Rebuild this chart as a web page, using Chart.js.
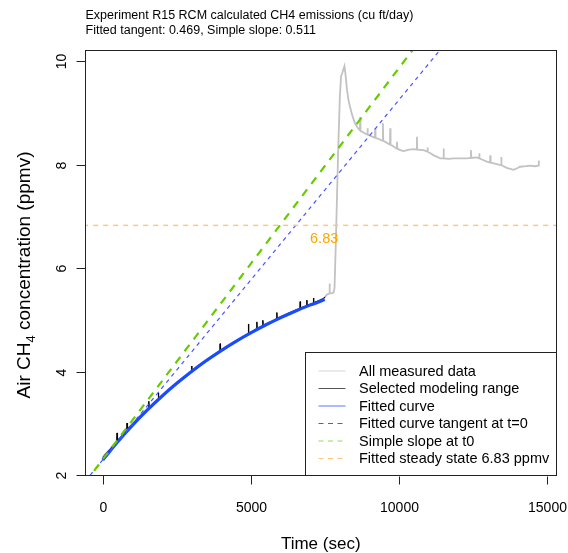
<!DOCTYPE html>
<html>
<head>
<meta charset="utf-8">
<script src="https://cdn.jsdelivr.net/npm/chart.js@4.4.1/dist/chart.umd.min.js"></script>
<style>
body { margin: 0; background: #fff; }
#wrap { width: 568px; height: 553px; }
</style>
</head>
<body>
<div id="wrap"><canvas id="myChart" width="568" height="553"></canvas></div>
<script>
// selected modeling range (sec, ppmv)
var selTime = [0, 120, 250, 380, 470, 484, 495, 600, 700, 810, 821, 832, 950, 1100, 1250, 1400,
  1545, 1555, 1565, 1700, 1870, 1880, 1890, 2050, 2250, 2450, 2650, 2850, 2998, 3008, 3018,
  3200, 3400, 3600, 3800, 3956, 3966, 3976, 4150, 4350, 4550, 4750, 4913, 4923, 4933, 5050,
  5196, 5206, 5216, 5399, 5409, 5419, 5600, 5750, 5872, 5882, 5892, 6050, 6250, 6450,
  6660, 6670, 6680, 6886, 6896, 6906, 7110, 7120, 7130, 7300, 7450, 7515];
var selConc = [2.36, 2.44, 2.52, 2.61, 2.66, 2.83, 2.69, 2.74, 2.82, 2.89, 3.02, 2.91, 2.97, 3.06, 3.15, 3.23,
  3.31, 3.44, 3.32, 3.39, 3.48, 3.60, 3.49, 3.57, 3.66, 3.75, 3.84, 3.93, 4.00, 4.12, 4.01,
  4.08, 4.17, 4.25, 4.33, 4.39, 4.55, 4.40, 4.46, 4.54, 4.61, 4.68, 4.74, 4.93, 4.75, 4.78,
  4.83, 4.97, 4.84, 4.89, 5.00, 4.90, 4.95, 4.99, 5.03, 5.15, 5.04, 5.08, 5.13, 5.18,
  5.23, 5.36, 5.24, 5.28, 5.39, 5.29, 5.33, 5.43, 5.34, 5.38, 5.42, 5.45];

// rest of the measured data, after the modeling range
var tailTime = [7560, 7620, 7652, 7662, 7672, 7740, 7800, 7830, 7870, 7910, 7960, 8010, 8050, 8100,
  8165, 8200, 8250, 8300, 8360, 8440, 8520, 8600, 8688, 8698, 8708, 8800, 8936, 8946, 8956,
  9100, 9196, 9206, 9216, 9375, 9456, 9466, 9476, 9600, 9703, 9713, 9723, 9825, 9929, 9939,
  9949, 10050, 10163, 10350, 10500, 10605, 10615, 10625, 10838, 10964, 10974, 10984, 11100,
  11178, 11300, 11403, 11505, 11515, 11525, 11700, 11850, 12100, 12300, 12431, 12441, 12451,
  12640, 12712, 12722, 12732, 12850, 12980, 13083, 13093, 13103, 13250, 13430, 13455, 13465,
  13475, 13650, 13880, 14000, 14100, 14300, 14445, 14600, 14717, 14727, 14737, 14760];
var tailConc = [5.49, 5.51, 5.52, 5.71, 5.52, 5.52, 5.54, 5.62, 6.40, 7.30, 8.40, 9.30, 9.70, 9.78,
  9.90, 9.75, 9.45, 9.25, 9.10, 8.93, 8.80, 8.72, 8.66, 8.92, 8.66, 8.62, 8.58, 8.70, 8.58,
  8.54, 8.52, 8.70, 8.52, 8.48, 8.46, 8.80, 8.46, 8.42, 8.39, 8.70, 8.39, 8.35, 8.31, 8.44,
  8.31, 8.28, 8.26, 8.29, 8.30, 8.29, 8.54, 8.29, 8.28, 8.25, 8.33, 8.25, 8.21,
  8.18, 8.15, 8.12, 8.12, 8.31, 8.12, 8.11, 8.12, 8.12, 8.12, 8.13, 8.28, 8.13,
  8.14, 8.12, 8.22, 8.12, 8.09, 8.06, 8.04, 8.18, 8.04, 8.02, 7.99, 7.99, 8.15,
  7.99, 7.94, 7.90, 7.93, 7.96, 7.97, 7.98, 7.97, 7.98, 8.08, 7.98, 7.98];

// fitted curve
var fitTime = [0, 500, 1000, 1500, 2000, 2500, 3000, 3500, 4000, 4500, 5000, 5500, 6000, 6500, 7000, 7500];
var fitConc = [2.31, 2.656, 2.975, 3.268, 3.538, 3.786, 4.015, 4.225, 4.418, 4.596, 4.759, 4.910, 5.048, 5.176, 5.293, 5.401];

// straight lines (run past the plot edges, clipped)
var tangentTime = [-600, 12000];
var tangentConc = [1.894, 10.63];
var slopeTime = [-600, 11000];
var slopeConc = [1.868, 10.61];
var steadyTime = [-1000, 16000];
var steadyConc = [6.83, 6.83];
var steadyLabelTime = 7480;

var xTicks = [0, 5000, 10000, 15000];
var yTicks = [2, 4, 6, 8, 10];

var titleLines = ['Experiment R15 RCM calculated CH4 emissions (cu ft/day)',
  'Fitted tangent: 0.469, Simple slope: 0.511'];

var FONT = '"Liberation Sans", Arial, Helvetica, sans-serif';

function pts(t, c) {
  return t.map(function (v, i) { return { x: v, y: c[i] }; });
}

var rLook = {
  id: 'rLook',
  afterDraw: function (chart) {
    var ctx = chart.ctx, a = chart.chartArea;
    var xs = chart.scales.x, ys = chart.scales.y;
    ctx.save();

    // box
    ctx.strokeStyle = '#222';
    ctx.lineWidth = 1;
    ctx.setLineDash([]);
    var L = Math.round(a.left) + 0.5, T = Math.round(a.top) + 0.5;
    var R = Math.round(a.right) - 0.5, B = Math.round(a.bottom) - 0.5;
    ctx.strokeRect(L, T, R - L, B - T);

    // x ticks
    ctx.fillStyle = '#000';
    ctx.font = '14px ' + FONT;
    ctx.textAlign = 'center';
    ctx.textBaseline = 'alphabetic';
    xTicks.forEach(function (v) {
      var px = Math.round(xs.getPixelForValue(v)) + 0.5;
      ctx.beginPath(); ctx.moveTo(px, B); ctx.lineTo(px, B + 9); ctx.stroke();
      ctx.fillText(String(v), px, 511.5);
    });

    // y ticks, labels rotated like R
    yTicks.forEach(function (v) {
      var py = Math.round(ys.getPixelForValue(v)) + 0.5;
      if (py > B) py = B;
      ctx.beginPath(); ctx.moveTo(L, py); ctx.lineTo(L - 9, py); ctx.stroke();
      ctx.save();
      ctx.translate(65.5, py);
      ctx.rotate(-Math.PI / 2);
      ctx.fillText(String(v), 0, 0);
      ctx.restore();
    });

    // axis titles
    ctx.font = '17px ' + FONT;
    ctx.fillText('Time (sec)', (a.left + a.right) / 2, 548.5);

    ctx.save();
    ctx.translate(30, 275);
    ctx.rotate(-Math.PI / 2);
    var f1 = '19px ' + FONT, f2 = '13px ' + FONT;
    var p1 = 'Air CH', p2 = '4', p3 = ' concentration (ppmv)';
    ctx.font = f1;
    var w1 = ctx.measureText(p1).width, w3 = ctx.measureText(p3).width;
    ctx.font = f2;
    var w2 = ctx.measureText(p2).width;
    var x0 = -(w1 + w2 + w3) / 2;
    ctx.textAlign = 'left';
    ctx.font = f1; ctx.fillText(p1, x0, 0);
    ctx.font = f2; ctx.fillText(p2, x0 + w1, 5);
    ctx.font = f1; ctx.fillText(p3, x0 + w1 + w2, 0);
    ctx.restore();

    // main title
    ctx.textAlign = 'left';
    ctx.font = '12.5px ' + FONT;
    ctx.fillText(titleLines[0], 85.5, 18.8);
    ctx.fillText(titleLines[1], 85.5, 33.7);

    // steady state label
    ctx.textAlign = 'center';
    ctx.fillStyle = '#ffa500';
    ctx.font = '14.5px ' + FONT;
    ctx.fillText(steadyConc[0].toFixed(2), xs.getPixelForValue(steadyLabelTime),
      ys.getPixelForValue(steadyConc[0]) + 18);

    // legend, bottom right inside the plot
    var lw = 252, lh = 124;
    var lx = Math.round(a.right - lw) + 0.5, ly = Math.round(a.bottom - lh) + 0.5;
    ctx.fillStyle = '#fff';
    ctx.fillRect(lx, ly, lw, lh);
    ctx.strokeStyle = '#222';
    ctx.strokeRect(lx, ly, R - lx, B - ly);
    ctx.font = '14.5px ' + FONT;
    ctx.textAlign = 'left';
    ctx.textBaseline = 'middle';
    chart.data.datasets.forEach(function (ds, i) {
      var yy = ly + 18.5 + i * 17.5;
      ctx.strokeStyle = ds.legendColor || ds.borderColor;
      ctx.lineWidth = ds.legendWidth || 1;
      ctx.setLineDash(ds.borderDash ? [5, 4.5] : []);
      ctx.beginPath(); ctx.moveTo(lx + 13, yy); ctx.lineTo(lx + 40, yy); ctx.stroke();
      ctx.fillStyle = '#000';
      ctx.fillText(ds.label, lx + 53.5, yy + 0.5);
    });
    ctx.restore();
  }
};

var ctx = document.getElementById('myChart').getContext('2d');
var chart = new Chart(ctx, {
  type: 'scatter',
  data: {
    datasets: [
      {
        label: 'All measured data',
        data: pts(selTime.concat(tailTime), selConc.concat(tailConc)),
        borderColor: '#c2c2c2', legendColor: '#d4d4d4', borderWidth: 1.8, order: 6
      },
      {
        label: 'Selected modeling range',
        data: pts(selTime, selConc),
        borderColor: '#000', legendColor: '#555', borderWidth: 1, order: 5
      },
      {
        label: 'Fitted curve',
        data: pts(fitTime, fitConc),
        borderColor: '#1a4cff', legendColor: '#5b78ff', borderWidth: 3.2, order: 4,
        cubicInterpolationMode: 'monotone'
      },
      {
        label: 'Fitted curve tangent at t=0',
        data: pts(tangentTime, tangentConc),
        borderColor: '#4a55ff', borderWidth: 1.2, borderDash: [4, 4], order: 3
      },
      {
        label: 'Simple slope at t0',
        data: pts(slopeTime, slopeConc),
        borderColor: '#66cc00', legendColor: '#8fdd55', borderWidth: 2.2, borderDash: [8, 7], order: 2
      },
      {
        label: 'Fitted steady state 6.83 ppmv',
        data: pts(steadyTime, steadyConc),
        borderColor: '#ffc67e', borderWidth: 1.5, borderDash: [5, 5], order: 1
      }
    ]
  },
  options: {
    responsive: false,
    animation: false,
    showLine: true,
    layout: { padding: { top: 50, right: 11.5, bottom: 0, left: 0 } },
    elements: { point: { radius: 0, hoverRadius: 0 }, line: { tension: 0 } },
    datasets: { scatter: { clip: 0 } },
    plugins: { legend: { display: false }, tooltip: { enabled: false }, title: { display: false } },
    scales: {
      x: {
        type: 'linear', min: -600, max: 15330,
        grid: { display: false }, border: { display: false },
        ticks: { display: false },
        afterBuildTicks: function (s) { s.ticks = xTicks.map(function (v) { return { value: v }; }); },
        afterFit: function (s) { s.height = 77; }
      },
      y: {
        type: 'linear', min: 2.0, max: 10.21,
        grid: { display: false }, border: { display: false },
        ticks: { display: false },
        afterBuildTicks: function (s) { s.ticks = yTicks.map(function (v) { return { value: v }; }); },
        afterFit: function (s) { s.width = 85; }
      }
    }
  },
  plugins: [rLook]
});
</script>
</body>
</html>
